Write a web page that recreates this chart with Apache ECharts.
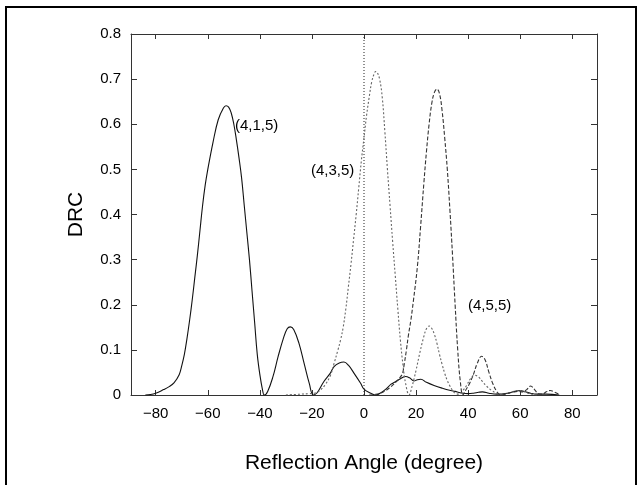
<!DOCTYPE html>
<html><head><meta charset="utf-8">
<script src="https://cdn.jsdelivr.net/npm/echarts@6/dist/echarts.min.js"></script>
<style>html,body{margin:0;padding:0;background:#fff}#c{width:641px;height:485px}</style>
</head><body><div id="c"></div>
<script>
const xTicks = [-80, -60, -40, -20, 0, 20, 40, 60, 80];
const yTicks = [0, 0.1, 0.2, 0.3, 0.4, 0.5, 0.6, 0.7, 0.8];

// (4,1,5) solid
const s415x = [-84,-82,-80,-77,-75,-73,-71,-70,-69,-68,-67,-66,-65,-64,-63,-62,-61,-60,-58,-56,-54,-53,-52,-51,-50,-49,-48,-47,-46,-45,-44,-43,-42,-41,-40,-39,-38.3,-37,-35,-33,-31,-29.5,-28.3,-27,-25,-23,-21,-19.5,-18,-15.4,-13,-11.5,-9.5,-7.7,-6,-3.8,-1.3,0,2.6,4.6,6.5,8.4,10.4,12.2,14,16,17.5,19.2,20.5,21.8,24,26.9,30.1,33.3,35,37,40,42,44,45.5,48,51,55,58,60,62,64,66,70,75];
const s415y = [0,0.001,0.004,0.012,0.018,0.027,0.045,0.065,0.09,0.125,0.165,0.21,0.26,0.31,0.365,0.42,0.465,0.5,0.56,0.61,0.636,0.641,0.638,0.625,0.6,0.565,0.525,0.48,0.42,0.36,0.3,0.23,0.16,0.09,0.045,0.012,0,0.008,0.04,0.085,0.125,0.147,0.151,0.145,0.115,0.07,0.025,0,0.005,0.03,0.048,0.063,0.071,0.073,0.066,0.048,0.026,0.013,0.004,0,0.005,0.013,0.024,0.03,0.036,0.041,0.038,0.031,0.034,0.035,0.028,0.021,0.015,0.01,0.008,0.005,0.003,0.004,0.006,0.007,0.004,0.002,0.004,0.008,0.01,0.007,0.004,0.002,0.002,0];

// (4,3,5) dotted
const s435x = [-30,-24,-21,-19,-17.5,-16.7,-15,-13,-11.5,-10,-9,-8,-7,-6,-5,-4,-3,-2,-1,0,1,2,3,4,4.5,5,6,7,8,9,10,11,12,13,14,15,16,17.3,18.5,20,21.5,23,24,25,26,27,28,29,30,31,32,33,34,35,36.5,38,39.5,41,42.5,44,45.5,47,49,51,53,55,57,59,61,63,65,67];
const s435y = [0,0.002,0.003,0.004,0.008,0.011,0.022,0.042,0.07,0.1,0.122,0.15,0.19,0.24,0.29,0.345,0.4,0.46,0.52,0.57,0.62,0.66,0.695,0.713,0.717,0.716,0.7,0.66,0.585,0.5,0.42,0.34,0.265,0.19,0.12,0.065,0.025,0,0.02,0.055,0.095,0.13,0.147,0.153,0.148,0.135,0.115,0.09,0.068,0.048,0.032,0.02,0.01,0.004,0.002,0.01,0.022,0.037,0.044,0.04,0.03,0.02,0.01,0.004,0.001,0.003,0.007,0.01,0.009,0.004,0.001,0];

// (4,5,5) dashed
const s455x = [2,4,6.4,8.4,10.3,12.5,14,14.8,15.5,16.3,17,18,19,20.5,21.7,23,24,25,26,27,28,29,30,31,32,33,34,35,36,37,38,39,40.5,42,43.5,45.2,46.5,48,49.5,51,52.5,55,57,59,61,62.5,64,65.5,67,68.5,70,71.5,73,75];
const s455y = [0,0.001,0.004,0.01,0.018,0.03,0.04,0.048,0.07,0.1,0.13,0.166,0.21,0.284,0.37,0.47,0.54,0.6,0.645,0.67,0.678,0.668,0.63,0.57,0.5,0.41,0.31,0.2,0.1,0.03,0,0.01,0.025,0.045,0.07,0.086,0.078,0.05,0.025,0.008,0,0.003,0.006,0.008,0.007,0.012,0.02,0.012,0.003,0.002,0.007,0.01,0.007,0.001];

// x = 0 reference line
const refX = [0, 0];
const refY = [0, 0.8];

const pairs = (xs, ys) => xs.map((x, i) => [x, ys[i]]);
const FONT = "'Liberation Sans', Arial, sans-serif";
const AX = '#333';

const chart = echarts.init(document.getElementById('c'), null, {renderer: 'canvas'});
const xCommon = {
  type: 'value', min: -89.5, max: 89.5,
  splitLine: {show: false},
  axisLine: {show: true, onZero: false, lineStyle: {color: AX, width: 1}},
  axisTick: {show: true, inside: true, length: 5, customValues: xTicks, lineStyle: {color: AX}},
};
const yCommon = {
  type: 'value', min: 0, max: 0.8, interval: 0.1,
  splitLine: {show: false},
  axisLine: {show: true, onZero: false, lineStyle: {color: AX, width: 1}},
  axisTick: {show: true, inside: true, length: 6, lineStyle: {color: AX}},
};
chart.setOption({
  animation: false,
  backgroundColor: '#fff',
  grid: {left: 131, right: 44, top: 34, bottom: 90},
  xAxis: [
    Object.assign({}, xCommon, {
      position: 'bottom',
      name: 'Reflection Angle (degree)', nameLocation: 'middle', nameGap: 58,
      nameTextStyle: {fontFamily: FONT, fontSize: 21, color: '#000'},
      axisLabel: {customValues: xTicks, fontFamily: FONT, fontSize: 15, color: '#000', margin: 11,
        formatter: v => (v < 0 ? '\u2212' + Math.abs(v) : String(v))}
    }),
    Object.assign({}, xCommon, {position: 'top', axisLabel: {show: false}})
  ],
  yAxis: [
    Object.assign({}, yCommon, {
      position: 'left',
      name: 'DRC', nameLocation: 'middle', nameGap: 44,
      nameTextStyle: {fontFamily: FONT, fontSize: 21, color: '#000'},
      axisLabel: {fontFamily: FONT, fontSize: 15, color: '#000', margin: 10,
        formatter: v => (v === 0 ? '0' : v.toFixed(1))}
    }),
    Object.assign({}, yCommon, {position: 'right', axisLabel: {show: false}})
  ],
  series: [
    {type: 'line', data: pairs(refX, refY), symbol: 'none', silent: true,
      lineStyle: {color: '#222', width: 1, type: [1, 2]}},
    {type: 'line', name: '(4,1,5)', data: pairs(s415x, s415y), symbol: 'none', smooth: 0.4,
      lineStyle: {color: '#111', width: 1.1, type: 'solid'}},
    {type: 'line', name: '(4,3,5)', data: pairs(s435x, s435y), symbol: 'none', smooth: 0.4,
      lineStyle: {color: '#666', width: 1.1, type: [2, 2]}},
    {type: 'line', name: '(4,5,5)', data: pairs(s455x, s455y), symbol: 'none', smooth: 0.4,
      lineStyle: {color: '#333', width: 1.1, type: [4, 2]}}
  ],
  graphic: [
    {type: 'rect', shape: {x: 6, y: 7, width: 630, height: 490}, silent: true,
      style: {fill: 'none', stroke: '#000', lineWidth: 2}},
    {type: 'text', x: 235, y: 126, style: {text: '(4,1,5)', font: '15px ' + FONT, fill: '#000', textVerticalAlign: 'middle'}},
    {type: 'text', x: 311, y: 171, style: {text: '(4,3,5)', font: '15px ' + FONT, fill: '#000', textVerticalAlign: 'middle'}},
    {type: 'text', x: 468, y: 306, style: {text: '(4,5,5)', font: '15px ' + FONT, fill: '#000', textVerticalAlign: 'middle'}}
  ]
});
</script>
</body></html>
